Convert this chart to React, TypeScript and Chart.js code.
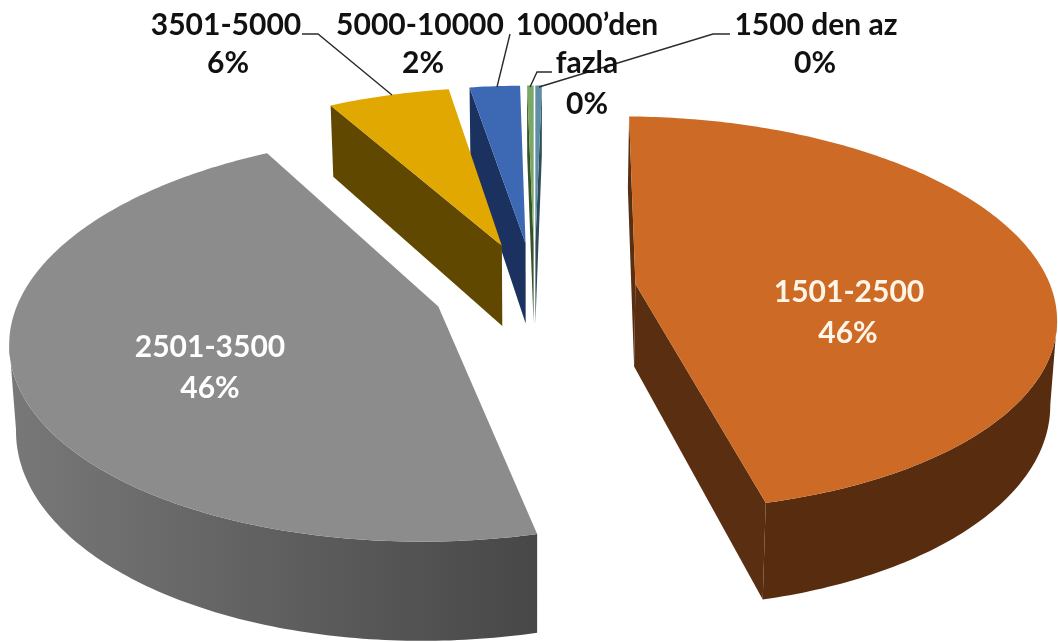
import React, { useEffect, useRef } from "react";
import { Chart, registerables } from "chart.js";

Chart.register(...registerables);

// Income bands, clockwise from twelve o'clock
const categories = ["1500 den az", "1501-2500", "2501-3500", "3501-5000", "5000-10000", "10000’den fazla"];
const shares = [0.3, 45.95, 45.6, 5.55, 2.3, 0.3];

const topColors = ["#5F8FA6", "#CC6A26", "#8C8C8C", "#E0A800", "#3C68B4", "#7AA866"];
const sideColors = ["#2F4A58", "#5A2E10", "#555555", "#614800", "#1B3160", "#365229"];
const rimLeftColors = ["#2F4A58", "#5C3011", "#787878", "#614800", "#1B3160", "#365229"];
const rimRightColors = ["#2F4A58", "#582C0E", "#474747", "#614800", "#1B3160", "#365229"];

const labelLines = [["1500 den az"], ["1501-2500"], ["2501-3500"], ["3501-5000"], ["5000-10000"], ["10000’den", "fazla"]];
const labelCenters = [[816, 25], [849, 292], [210, 347], [226, 25], [420, 25], [587, 25]];
const labelColors = ["#111111", "#FFF6E8", "#FFFFFF", "#111111", "#111111", "#111111"];
const percentCenters = [[815, 63], [848, 333], [210, 388], [228, 63], [423, 63], [587, 104]];
const leaderPaths = [
  [[730, 34], [713, 34], [539, 87]],
  [],
  [],
  [[302, 34], [318, 34], [392, 95]],
  [[510, 34], [497, 87]],
  [[552, 72], [537, 72], [530, 87]],
];

const RADIUS = 200;
const OFFSET = 49;
const DEPTH = 0.415;
const SCALE_X = 2.08;
const SCALE_Y = 0.97;
const PERSPECTIVE = 0.15;
const BOTTOM_SHRINK = 0.987;

type Pt = { x: number; y: number };

// Camera projection for a point on the pie's plane, in units of the pie radius
function project(cx: number, cy: number, r: number, ux: number, uy: number, lower: boolean): Pt {
  const w = 1 - PERSPECTIVE * uy;
  const x = (SCALE_X * r * ux) / w;
  const y = (SCALE_Y * r * uy) / w;
  if (!lower) return { x: cx + x, y: cy + y };
  return { x: cx + x * BOTTOM_SHRINK, y: cy + y + (DEPTH * r) / w };
}

function fillShape(ctx: CanvasRenderingContext2D, pts: Pt[], fill: any) {
  ctx.beginPath();
  pts.forEach((p, i) => (i ? ctx.lineTo(p.x, p.y) : ctx.moveTo(p.x, p.y)));
  ctx.closePath();
  ctx.fillStyle = fill;
  ctx.fill();
}

const solidPie = {
  id: "solidPie",
  // Replaces the flat arcs with extruded slices built from each arc's own angles
  beforeDatasetsDraw(chart: any) {
    const { ctx, chartArea } = chart;
    const arcs: any[] = chart.getDatasetMeta(0).data;
    const order = arcs
      .map((arc, index) => {
        const mid = (arc.startAngle + arc.endAngle) / 2;
        return { arc, index, mid, apexY: Math.sin(mid) * (arc.options.offset / arc.outerRadius) };
      })
      .sort((a, b) => a.apexY - b.apexY);

    for (const { arc, index, mid } of order) {
      const r = arc.outerRadius;
      const e = arc.options.offset / r;
      const ax = Math.cos(mid) * e;
      const ay = Math.sin(mid) * e;
      const outline: [number, number][] = [[ax, ay]];
      const steps = Math.max(2, Math.ceil((arc.endAngle - arc.startAngle) / 0.015));
      for (let i = 0; i <= steps; i++) {
        const t = arc.startAngle + ((arc.endAngle - arc.startAngle) * i) / steps;
        outline.push([ax + Math.cos(t), ay + Math.sin(t)]);
      }
      const upper = outline.map(([u, v]) => project(arc.x, arc.y, r, u, v, false));
      const lower = outline.map(([u, v]) => project(arc.x, arc.y, r, u, v, true));

      const rimFill = ctx.createLinearGradient(chartArea.left, 0, 540, 0);
      rimFill.addColorStop(0, rimLeftColors[index]);
      rimFill.addColorStop(1, rimRightColors[index]);

      // Straight walls: only edges running right-to-left on screen face the viewer
      const last = upper.length - 1;
      if (upper[1].x < upper[0].x) fillShape(ctx, [upper[0], upper[1], lower[1], lower[0]], sideColors[index]);
      if (upper[0].x < upper[last].x) fillShape(ctx, [upper[last], upper[0], lower[0], lower[last]], sideColors[index]);

      // Curved wall as one swept band along the visible part of the rim
      const topEdge: Pt[] = [];
      const bottomEdge: Pt[] = [];
      for (let i = 1; i < last; i++) {
        if (upper[i + 1].x < upper[i].x) {
          if (!topEdge.length) {
            topEdge.push(upper[i]);
            bottomEdge.push(lower[i]);
          }
          topEdge.push(upper[i + 1]);
          bottomEdge.push(lower[i + 1]);
        }
      }
      if (topEdge.length) fillShape(ctx, [...topEdge, ...bottomEdge.reverse()], rimFill);

      fillShape(ctx, upper, arc.options.backgroundColor);
    }
    return false;
  },
  afterDraw(chart: any) {
    const { ctx } = chart;
    const total = shares.reduce((a, b) => a + b, 0);
    ctx.save();
    ctx.strokeStyle = "#2b2b2b";
    ctx.lineWidth = 1.4;
    for (const path of leaderPaths) {
      if (!path.length) continue;
      ctx.beginPath();
      path.forEach(([x, y], i) => (i ? ctx.lineTo(x, y) : ctx.moveTo(x, y)));
      ctx.stroke();
    }
    ctx.font = 'bold 30px Lato, "Open Sans", sans-serif';
    ctx.textAlign = "center";
    ctx.textBaseline = "middle";
    categories.forEach((_, i) => {
      ctx.fillStyle = labelColors[i];
      const [x, y] = labelCenters[i];
      labelLines[i].forEach((line, k) => ctx.fillText(line, x, y + k * 38));
      const [px, py] = percentCenters[i];
      ctx.fillText(`${Math.round((shares[i] / total) * 100)}%`, px, py);
    });
    ctx.restore();
  },
};

export default function App() {
  const canvasRef = useRef<HTMLCanvasElement>(null);

  useEffect(() => {
    document.body.style.margin = "0";
    const chart = new Chart(canvasRef.current as HTMLCanvasElement, {
      type: "pie",
      data: {
        labels: categories,
        datasets: [{ data: shares, backgroundColor: topColors, borderWidth: 0, offset: OFFSET }],
      },
      options: {
        responsive: false,
        animation: false,
        radius: RADIUS,
        rotation: 0,
        layout: { padding: { left: 11, bottom: 64 } },
        plugins: { legend: { display: false }, tooltip: { enabled: false } },
      } as any,
      plugins: [solidPie],
    });
    return () => chart.destroy();
  }, []);

  return <canvas ref={canvasRef} width={1058} height={642} style={{ display: "block", background: "#fff" }} />;
}
